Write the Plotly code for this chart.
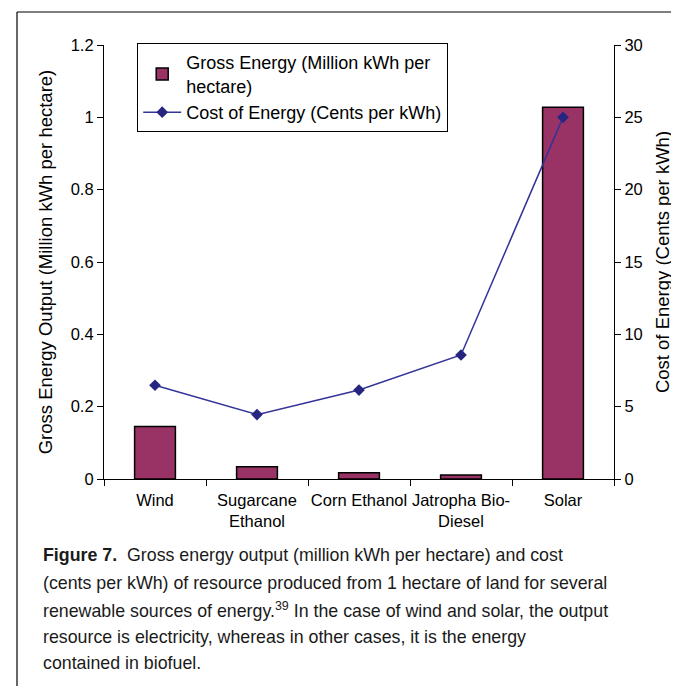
import plotly.graph_objects as go

categories = ["Wind", "Sugarcane<br>Ethanol", "Corn Ethanol", "Jatropha Bio-<br>Diesel", "Solar"]
gross_energy = [0.145, 0.034, 0.017, 0.011, 1.028]
cost_energy = [6.48, 4.45, 6.15, 8.57, 25.0]
left_ticks = [0, 0.2, 0.4, 0.6, 0.8, 1, 1.2]
right_ticks = [0, 5, 10, 15, 20, 25, 30]

FONT = "Liberation Sans, Arial, sans-serif"
OFF = 8  # page body margin
W, H = 679 - OFF, 686 - OFF
# plot area in screen coordinates
SL, SR, ST, SB = 104, 614, 45, 479
L, R, T, B = SL - OFF, SR - OFF, ST - OFF, SB - OFF


def px(x):
    return (x - SL) / (SR - SL)


def py(y):
    return (SB - y) / (SB - ST)


fig = go.Figure()
fig.add_trace(go.Bar(
    x=categories, y=gross_energy, name="Gross Energy (Million kWh per<br>hectare)",
    marker=dict(color="#993366", line=dict(color="black", width=1.5)),
    width=0.4, yaxis="y", xaxis="x",
))
fig.add_trace(go.Scatter(
    x=categories, y=cost_energy, name="Cost of Energy (Cents per kWh)",
    mode="lines+markers", yaxis="y2", xaxis="x",
    line=dict(color="#333399", width=1.5),
    marker=dict(symbol="diamond", size=9, color="#262680"),
))

TICKFONT = dict(family=FONT, size=16.5, color="black")
axis_common = dict(showgrid=False, zeroline=False, showline=True, linecolor="black", linewidth=1.2,
                   tickcolor="black", tickwidth=1.2, ticklen=6, tickfont=TICKFONT, tickangle=0)
overlay_common = dict(showticklabels=False, showgrid=False, zeroline=False, showline=False,
                      tickcolor="black", tickwidth=1.2, ticklen=6, ticks="inside")

fig.update_layout(
    width=W, height=H,
    paper_bgcolor="white", plot_bgcolor="white",
    margin=dict(l=L, r=W - R, t=T, b=H - B, autoexpand=False),
    font=dict(family=FONT, size=16.5, color="black"),
    xaxis=dict(type="category", categoryarray=categories, range=[-0.5, 4.5],
               tickson="boundaries", ticks="outside", ticklabelstandoff=6, **axis_common),
    xaxis2=dict(type="category", categoryarray=categories, range=[-0.5, 4.5], overlaying="x",
                tickson="boundaries", **overlay_common),
    yaxis=dict(range=[0, 1.2], tickvals=left_ticks, ticks="outside",
               title=dict(text="Gross Energy Output (Million kWh per hectare)",
                          font=dict(family=FONT, size=18.5), standoff=13),
               **axis_common),
    yaxis3=dict(range=[0, 1.2], tickvals=left_ticks, overlaying="y", side="left", **overlay_common),
    yaxis2=dict(range=[0, 30], tickvals=right_ticks, ticks="outside", overlaying="y", side="right",
                title=dict(text="Cost of Energy (Cents per kWh)",
                           font=dict(family=FONT, size=18.5), standoff=14),
                **axis_common),
    yaxis4=dict(range=[0, 30], tickvals=right_ticks, overlaying="y", side="right", **overlay_common),
    showlegend=True,
    legend=dict(x=px(137), y=py(43), xanchor="left", yanchor="top",
                bgcolor="white", bordercolor="black", borderwidth=1.2,
                font=dict(family=FONT, size=18), tracegroupgap=2, itemwidth=38),
)

# frame lines of the figure panel
fig.add_shape(type="line", xref="paper", yref="paper", x0=px(17), x1=px(17), y0=py(H + 20), y1=py(12),
              line=dict(color="black", width=1.2))
fig.add_shape(type="line", xref="paper", yref="paper", x0=px(17), x1=px(W + 20), y0=py(12), y1=py(12),
              line=dict(color="black", width=1.2))

caption = [
    "<b>Figure 7.</b>  Gross energy output (million kWh per hectare) and cost",
    "(cents per kWh) of resource produced from 1 hectare of land for several",
    "renewable sources of energy.<sup>39</sup> In the case of wind and solar, the output",
    "resource is electricity, whereas in other cases, it is the energy",
    "contained in biofuel.",
]
caption_y = [555, 583, 610, 637, 663]
for txt, yy in zip(caption, caption_y):
    fig.add_annotation(text=txt, xref="paper", yref="paper", x=px(41), y=py(yy),
                       xanchor="left", yanchor="middle", showarrow=False,
                       font=dict(family=FONT, size=17.8, color="#1a1a1a"))

fig.write_html("out.html")
